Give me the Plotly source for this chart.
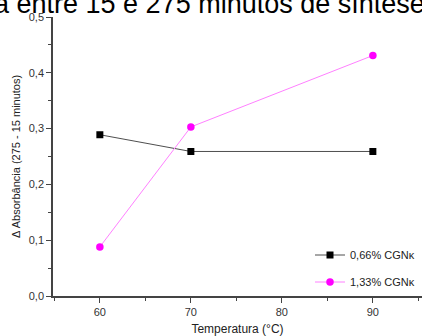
import plotly.graph_objects as go

temps = [60, 70, 90]
s1_name = "0,66% CGNκ"
s1_vals = [0.289, 0.259, 0.259]
s2_name = "1,33% CGNκ"
s2_vals = [0.088, 0.303, 0.431]
title_text = "a entre 15 e 275 minutos de síntese"

L, R, T, B = 53, 0, 17, 40
W, H = 422, 336
pw = W - L - R
ph = H - T - B

fig = go.Figure()
fig.add_trace(go.Scatter(x=temps, y=s1_vals, mode="lines+markers", name=s1_name,
                         line=dict(color="#3a3a3a", width=0.9),
                         marker=dict(symbol="square", size=7, color="black"),
                         legend="legend"))
fig.add_trace(go.Scatter(x=temps, y=s2_vals, mode="lines+markers", name=s2_name,
                         line=dict(color="#ff80ff", width=1),
                         marker=dict(symbol="circle", size=7.5, color="#ff00ff"),
                         legend="legend2"))

leg_common = dict(xanchor="left", yanchor="middle", bgcolor="rgba(0,0,0,0)",
                  font=dict(size=11, color="#222222"))

fig.update_layout(
    width=W, height=H, margin=dict(l=L, r=R, t=T, b=B),
    paper_bgcolor="white", plot_bgcolor="white",
    separators=", ",
    font=dict(family="Liberation Sans, Arial", color="#222222"),
    showlegend=True,
    legend=dict(x=(310 - L) / pw, y=(H - B - 255) / ph, **leg_common),
    legend2=dict(x=(310 - L) / pw, y=(H - B - 282) / ph, **leg_common),
    xaxis=dict(range=[54.85, 95.4], showgrid=False, zeroline=False,
               showline=True, linecolor="#444444", linewidth=1.5,
               ticks="outside", ticklen=5, tickcolor="#444444", tickwidth=1,
               tickvals=[60, 70, 80, 90], tickfont=dict(size=11, color="#333333"),
               minor=dict(tickvals=[55, 65, 75, 85, 95], ticks="outside", ticklen=3,
                          tickcolor="#444444"),
               title=dict(text="Temperatura (°C)", font=dict(size=12, color="#222222"), standoff=8)),
    yaxis=dict(range=[0, 0.5], showgrid=False, zeroline=False,
               showline=True, linecolor="#444444", linewidth=1.5,
               ticks="outside", ticklen=5, tickcolor="#444444", tickwidth=1,
               dtick=0.1, tick0=0, tickformat=".1f", tickfont=dict(size=11, color="#333333"),
               minor=dict(dtick=0.05, ticks="outside", ticklen=3, tickcolor="#444444"),
               title=dict(text="Δ Absorbância (275 - 15 minutos)", font=dict(size=11, color="#222222"), standoff=6)),
    annotations=[dict(text=title_text, xref="paper", yref="paper",
                      x=(-8 - L) / pw, y=1, xanchor="left", yanchor="bottom", yshift=-4.5,
                      showarrow=False, font=dict(size=27, color="black"))],
)

fig.write_html("out.html")
